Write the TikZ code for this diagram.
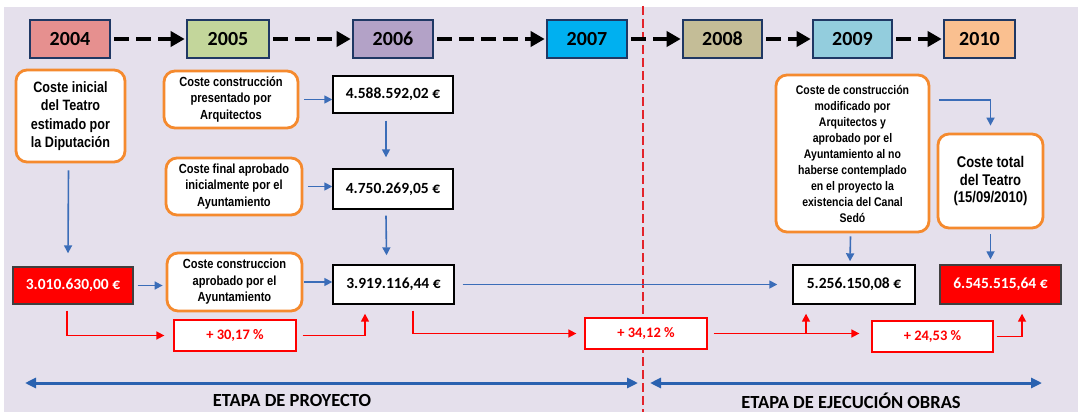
\documentclass[tikz,border=0pt]{standalone}
\usepackage{fontspec}
\setmainfont{Carlito}
\newfontfamily\narrowfont[FakeStretch=0.84]{Liberation Sans}
\usetikzlibrary{arrows.meta}
\definecolor{lav}{HTML}{E5E0EC}
\definecolor{navy}{HTML}{1F3864}
\definecolor{orng}{HTML}{F58A2E}
\definecolor{bconn}{HTML}{3B6DB8}
\definecolor{bthick}{HTML}{2A62B0}
\definecolor{rdash}{HTML}{E3242B}
\definecolor{y4}{HTML}{E6908F}
\definecolor{y5}{HTML}{C3D69B}
\definecolor{y6}{HTML}{B3A2C7}
\definecolor{y7}{HTML}{00B0F0}
\definecolor{y8}{HTML}{C4BD97}
\definecolor{y9}{HTML}{93CDDD}
\definecolor{y10}{HTML}{FAC090}
\tikzset{
  yearbox/.style={draw=navy, line width=2.6pt, inner sep=0pt, font=\bfseries\fontsize{20}{22}\selectfont, minimum height=38pt},
  yeararrow/.style={line width=4pt, dash pattern=on 15pt off 7pt, -{Triangle[length=14pt,width=15pt]}},
  obox/.style={draw=orng, fill=white, line width=2.8pt, rounded corners=11pt, inner sep=0pt, align=center, font=\narrowfont\bfseries\fontsize{13.2}{16.5}\selectfont},
  valbox/.style={draw=black, fill=white, line width=1.4pt, inner sep=0pt, font=\bfseries\fontsize{15.5}{17}\selectfont},
  redbox/.style={draw=black!75, fill=red, text=white, line width=1.4pt, inner sep=0pt, font=\bfseries\fontsize{15.5}{17}\selectfont},
  pctbox/.style={draw=red, fill=white, text=red, line width=1.3pt, inner sep=0pt, minimum width=122pt, minimum height=31pt, font=\bfseries\fontsize{14.5}{16}\selectfont},
  bline/.style={draw=bconn, line width=1.6pt, -{Triangle[length=8pt,width=8pt]}},
  rline/.style={draw=red, line width=1.6pt, -{Triangle[length=8pt,width=8pt]}},
  bigarrow/.style={draw=bthick, line width=3pt, {Triangle[length=11pt,width=10pt]}-{Triangle[length=11pt,width=10pt]}},
  stagelabel/.style={font=\bfseries\fontsize{18.5}{20}\selectfont, inner sep=0pt}
}
\begin{document}
\begin{tikzpicture}[x=1pt,y=-1pt]
\useasboundingbox (0,0) rectangle (1078,412);
\fill[white] (0,0) rectangle (1078,412);
\fill[lav] (4,7) rectangle (1078,412);

% red dashed divider
\coordinate (dtop) at (643,6);
\coordinate (dbot) at (643,412);
\draw[rdash, line width=2.2pt, dash pattern=on 9pt off 4pt] (dtop) -- (dbot);

% years
\node[yearbox, fill=y4, minimum width=80pt] (y2004) at (70,39) {2004};
\node[yearbox, fill=y5, minimum width=82pt] (y2005) at (228,39) {2005};
\node[yearbox, fill=y6, minimum width=80pt] (y2006) at (393,39) {2006};
\node[yearbox, fill=y7, minimum width=80pt] (y2007) at (587,39) {2007};
\node[yearbox, fill=y8, minimum width=79pt] (y2008) at (722.5,39) {2008};
\node[yearbox, fill=y9, minimum width=79pt] (y2009) at (852.5,39) {2009};
\node[yearbox, fill=y10, minimum width=71pt] (y2010) at (979.5,39) {2010};
\draw[yeararrow] ([xshift=3pt]y2004.east) -- ([xshift=-1pt]y2005.west);
\draw[yeararrow] ([xshift=3pt]y2005.east) -- ([xshift=-1pt]y2006.west);
\draw[yeararrow] ([xshift=3pt]y2006.east) -- ([xshift=-1pt]y2007.west);
\draw[yeararrow] ([xshift=3pt]y2007.east) -- ([xshift=-1pt]y2008.west);
\draw[yeararrow] ([xshift=3pt]y2008.east) -- ([xshift=-1pt]y2009.west);
\draw[yeararrow] ([xshift=3pt]y2009.east) -- ([xshift=-1pt]y2010.west);

% orange boxes
\node[obox, minimum width=109pt, minimum height=92pt, font=\narrowfont\bfseries\fontsize{15}{18.5}\selectfont] (inicial) at (70.5,116) {Coste inicial\\del Teatro\\estimado por\\la Diputación};
\node[obox, minimum width=134pt, minimum height=57pt] (presentado) at (231,99.5) {Coste construcción\\presentado por\\Arquitectos};
\node[obox, minimum width=136pt, minimum height=57pt] (final) at (234,186.5) {Coste final aprobado\\inicialmente por el\\Ayuntamiento};
\node[obox, minimum width=135pt, minimum height=58pt] (aprobado) at (234.5,282) {Coste construccion\\aprobado por el\\Ayuntamiento};
\node[obox, minimum width=153pt, minimum height=157pt, font=\narrowfont\bfseries\fontsize{12.5}{16}\selectfont] (modificado) at (852.5,153.5) {Coste de construcción\\modificado por\\Arquitectos y\\aprobado por el\\Ayuntamiento al no\\haberse contemplado\\en el proyecto la\\existencia del Canal\\Sedó};
\node[obox, minimum width=105pt, minimum height=94pt, font=\narrowfont\bfseries\fontsize{15.5}{17.5}\selectfont] (total) at (990.5,181) {Coste total\\del Teatro\\(15/09/2010)};

% value boxes
\node[valbox, minimum width=120pt, minimum height=37pt] (v4588) at (393,94.5) {4.588.592,02 €};
\node[valbox, minimum width=120pt, minimum height=40pt] (v4750) at (393,189) {4.750.269,05 €};
\node[valbox, minimum width=121pt, minimum height=39pt] (v3919) at (393.5,284.5) {3.919.116,44 €};
\node[valbox, minimum width=122pt, minimum height=39pt] (v5256) at (854,284.5) {5.256.150,08 €};
\node[redbox, minimum width=120pt, minimum height=37pt] (r3010) at (73,285.5) {3.010.630,00 €};
\node[redbox, minimum width=121pt, minimum height=39pt] (r6545) at (1000.5,284.5) {6.545.515,64 €};

% percentage boxes
\node[pctbox] (p3017) at (235,335.5) {+ 30,17 \%};
\node[pctbox] (p3412) at (646,333.5) {+ 34,12 \%};
\node[pctbox, minimum width=121pt] (p2453) at (932.5,336.5) {+ 24,53 \%};

% blue connectors
\draw[bline] ([xshift=-2pt,yshift=-7pt]inicial.south) -- ([xshift=-5pt,yshift=13pt]r3010.north);
\draw[bline] ([xshift=5pt]presentado.east) -- (presentado.east -| v4588.west);
\draw[bline] ([xshift=-7pt,yshift=-7pt]v4588.south) -- ([xshift=-7pt,yshift=11pt]v4750.north);
\draw[bline] ([xshift=5pt]final.east) -- (final.east -| v4750.west);
\draw[bline] ([xshift=-7pt,yshift=-6pt]v4750.south) -- ([xshift=-7pt,yshift=9pt]v3919.north);
\draw[bline] ([xshift=4pt]r3010.east) -- ([xshift=-3pt]r3010.east -| aprobado.west);
\draw[bline] ([xshift=1pt]aprobado.east) -- (aprobado.east -| v3919.west);
\draw[bline] ([xshift=8pt]v3919.east) -- ([xshift=-15pt]v5256.west);
\draw[bline] ([xshift=-2pt,yshift=-3pt]modificado.south) -- ([xshift=-4pt,yshift=3pt]v5256.north);
\draw[bline] ([xshift=9pt,yshift=53.5pt]modificado.east) -| ([yshift=7pt]total.north);
\coordinate (tj) at (total.south |- r6545.north);
\draw[bline] ([yshift=-5pt]total.south) -- ([yshift=5pt]tj);

% red connectors
\draw[rline] ([xshift=-6pt,yshift=-6pt]r3010.south) |- ([xshift=-9pt]p3017.west);
\draw[rline] ([xshift=6pt]p3017.east) -| ([xshift=-28.5pt,yshift=-9pt]v3919.south);
\draw[rline] ([xshift=19.5pt,yshift=-6pt]v3919.south) |- ([xshift=-8pt]p3412.west);
\coordinate (c1) at (p3412.east -| p2453.west);
\draw[rline] ([xshift=6pt]p3412.east) -- ([xshift=-12pt]c1);
\coordinate (br) at (v5256.south |- p3412.east);
\draw[rline] ([xshift=-48pt]br) -- ([xshift=-48pt,yshift=-9pt]v5256.south);
\draw[rline] ([xshift=3pt]p2453.east) -| ([xshift=21.5pt,yshift=-9pt]r6545.south);

% stage arrows
\coordinate (s1a) at (25,383);
\coordinate (s1b) at (638,383);
\coordinate (s2a) at (650,383);
\coordinate (s2b) at (1042,383);
\draw[bigarrow] (s1a) -- (s1b);
\draw[bigarrow] (s2a) -- (s2b);
\node[stagelabel] (etapa1) at (292,400.5) {ETAPA DE PROYECTO};
\node[stagelabel] (etapa2) at (851,400.5) {ETAPA DE EJECUCIÓN OBRAS};
\end{tikzpicture}
\end{document}
